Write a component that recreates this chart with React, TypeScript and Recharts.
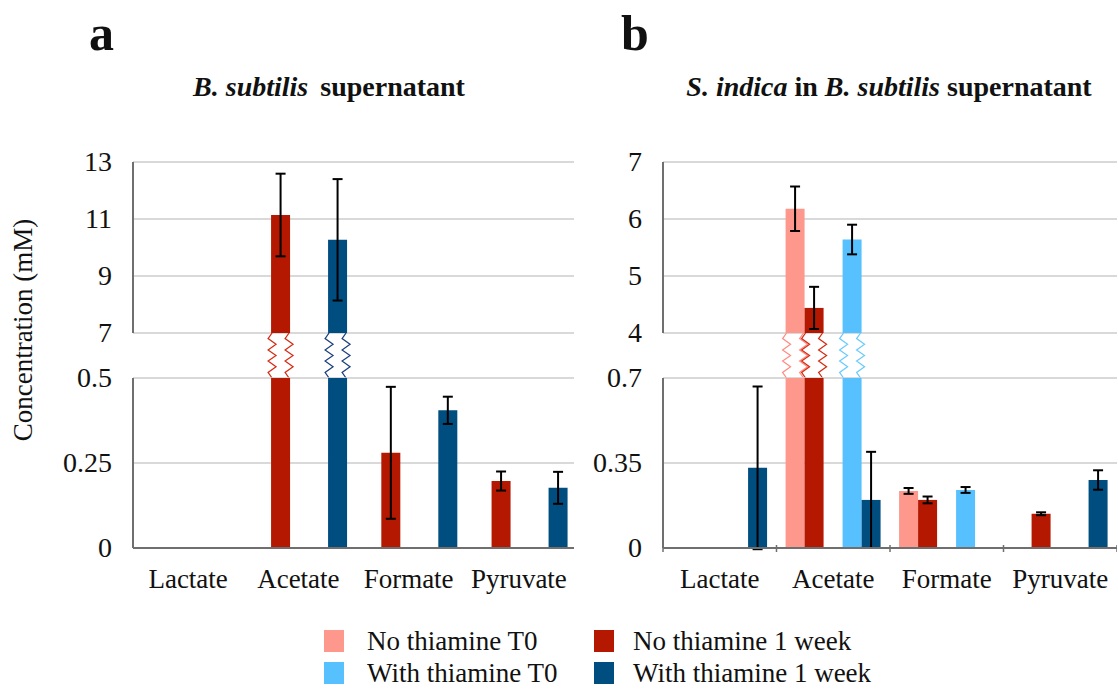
import React from 'react';
import { ComposedChart, Bar, XAxis, YAxis, CartesianGrid, ErrorBar } from 'recharts';

const categories = ['Lactate', 'Acetate', 'Formate', 'Pyruvate'];

// panel a: B. subtilis supernatant
const aNoT0 = [null, null, null, null];
const aNoT0Err = [null, null, null, null];
const aNo1w = [null, 11.14, 0.28, 0.197];
const aNo1wErr = [null, 1.45, 0.194, 0.028];
const aWithT0 = [null, null, null, null];
const aWithT0Err = [null, null, null, null];
const aWith1w = [null, 10.27, 0.405, 0.177];
const aWith1wErr = [null, 2.13, 0.04, 0.047];

// panel b: S. indica in B. subtilis supernatant
const bNoT0 = [null, 6.18, 0.235, null];
const bNoT0Err = [null, 0.39, 0.012, null];
const bNo1w = [null, 4.44, 0.198, 0.141];
const bNo1wErr = [null, 0.37, 0.014, 0.006];
const bWithT0 = [null, 5.64, 0.239, null];
const bWithT0Err = [null, 0.26, 0.012, null];
const bWith1w = [0.33, 0.198, null, 0.28];
const bWith1wErr = [0.335, 0.198, null, 0.04];

const aUpperTicks = [7, 9, 11, 13];
const aLowerTicks = [0, 0.25, 0.5];
const bUpperTicks = [4, 5, 6, 7];
const bLowerTicks = [0, 0.35, 0.7];

const SERIES = [
  { key: 'nt0', name: 'No thiamine T0', color: '#FE978C', zig: '#FF8C82' },
  { key: 'nt1', name: 'No thiamine 1 week', color: '#B41800', zig: '#D52A12' },
  { key: 'wt0', name: 'With thiamine T0', color: '#57C1FF', zig: '#6ACAFF' },
  { key: 'wt1', name: 'With thiamine 1 week', color: '#004D80', zig: '#1B3E7C' },
];

const FONT = 'Liberation Serif, DejaVu Serif';
const GRID = '#cccccc';
const AXIS = '#6f6f6f';

const UP_TOP = 162;
const UP_BOT = 333;
const LO_TOP = 378;
const LO_BOT = 548;
const PAD = 20;
const YW = 90;
const XH = 60;
const MID_H = LO_TOP - UP_BOT;

const panels = [
  {
    id: 'a',
    left: 133,
    right: 574,
    vals: { nt0: aNoT0, nt1: aNo1w, wt0: aWithT0, wt1: aWith1w },
    errs: { nt0: aNoT0Err, nt1: aNo1wErr, wt0: aWithT0Err, wt1: aWith1wErr },
    upperTicks: aUpperTicks,
    lowerTicks: aLowerTicks,
    boundaryTicks: false,
    tickMargin: 21,
  },
  {
    id: 'b',
    left: 663,
    right: 1117,
    vals: { nt0: bNoT0, nt1: bNo1w, wt0: bWithT0, wt1: bWith1w },
    errs: { nt0: bNoT0Err, nt1: bNo1wErr, wt0: bWithT0Err, wt1: bWith1wErr },
    upperTicks: bUpperTicks,
    lowerTicks: bLowerTicks,
    boundaryTicks: true,
    tickMargin: 21,
  },
];

const zigShape = (color: string, key: string, thr: number) => (p: any) => {
  const v = p.payload ? p.payload[key] : null;
  if (v == null || v <= thr) return <g />;
  const edge = (x0: number) => {
    const pts: string[] = [];
    for (let i = 0; i <= 8; i++) {
      const dx = i === 0 || i === 8 ? 0 : i % 2 ? -4 : 4;
      pts.push(`${x0 + dx},${((i * MID_H) / 8).toFixed(1)}`);
    }
    return pts.join(' ');
  };
  return (
    <g>
      <polyline points={edge(p.x + 1)} fill="none" stroke={color} strokeWidth={1.2} />
      <polyline points={edge(p.x + p.width - 1)} fill="none" stroke={color} strokeWidth={1.2} />
    </g>
  );
};

function Panel({ cfg }: { cfg: any }) {
  const plotW = cfg.right - cfg.left;
  const band = plotW / categories.length;
  const brkHi = cfg.upperTicks[0];
  const loMax = cfg.lowerTicks[cfg.lowerTicks.length - 1];

  const rows = categories.map((name, i) => {
    const r: any = { name };
    for (const s of SERIES) {
      const v = cfg.vals[s.key][i];
      const e = cfg.errs[s.key][i];
      const above = v != null && v > brkHi;
      r[s.key] = v;
      r[s.key + 'Up'] = above ? v : null;
      r[s.key + 'UpErr'] = above ? e : null;
      r[s.key + 'LoErr'] = v != null && v <= loMax ? e : null;
    }
    return r;
  });

  const YTick = (props: any) => {
    const { x, y, payload } = props;
    return (
      <text x={x} y={y} dy={9} textAnchor="end" fontSize={28} style={{ fontFamily: FONT }} fill="#111">
        {payload.value}
      </text>
    );
  };

  const XTick = (props: any) => {
    const { x, y, payload, index } = props;
    return (
      <g>
        <text x={x} y={y + 40} textAnchor="middle" fontSize={27} style={{ fontFamily: FONT }} fill="#111">
          {payload.value}
        </text>
        {cfg.boundaryTicks && (
          <line x1={x - band / 2} x2={x - band / 2} y1={y - 3} y2={y + 4} stroke={AXIS} strokeWidth={1.5} />
        )}
        {cfg.boundaryTicks && index === categories.length - 1 && (
          <line x1={x + band / 2} x2={x + band / 2} y1={y - 3} y2={y + 4} stroke={AXIS} strokeWidth={1.5} />
        )}
      </g>
    );
  };

  const bars = (suffix: string, errSuffix: string | null) => [
    ...SERIES.slice(0, 2).map((s) => (
      <Bar key={s.key} dataKey={s.key + suffix} fill={s.color} isAnimationActive={false}>
        {errSuffix && (
          <ErrorBar dataKey={s.key + errSuffix} width={5} strokeWidth={2} stroke="#000" direction="y" />
        )}
      </Bar>
    )),
    <Bar key="gap" dataKey="gap" fill="none" isAnimationActive={false} />,
    ...SERIES.slice(2).map((s) => (
      <Bar key={s.key} dataKey={s.key + suffix} fill={s.color} isAnimationActive={false}>
        {errSuffix && (
          <ErrorBar dataKey={s.key + errSuffix} width={5} strokeWidth={2} stroke="#000" direction="y" />
        )}
      </Bar>
    )),
  ];

  return (
    <>
      {/* upper segment */}
      <div style={{ position: 'absolute', left: cfg.left - YW, top: UP_TOP - PAD }}>
        <ComposedChart
          width={YW + plotW}
          height={UP_BOT - UP_TOP + 2 * PAD}
          data={rows}
          margin={{ top: PAD, bottom: PAD, left: 0, right: 0 }}
          barCategoryGap="8%"
          barGap={0}
        >
          <CartesianGrid vertical={false} stroke={GRID} strokeWidth={1.5} />
          <XAxis dataKey="name" hide />
          <YAxis
            type="number"
            width={YW}
            domain={[cfg.upperTicks[0], cfg.upperTicks[cfg.upperTicks.length - 1]]}
            ticks={cfg.upperTicks}
            allowDataOverflow
            tickLine={false}
            tickSize={0}
            tickMargin={cfg.tickMargin}
            axisLine={{ stroke: AXIS, strokeWidth: 2 }}
            tick={<YTick />}
          />
          {bars('Up', 'UpErr')}
        </ComposedChart>
      </div>
      {/* break zone */}
      <div style={{ position: 'absolute', left: cfg.left, top: UP_BOT }}>
        <ComposedChart
          width={plotW}
          height={MID_H}
          data={rows}
          margin={{ top: 0, bottom: 0, left: 0, right: 0 }}
          barCategoryGap="8%"
          barGap={0}
        >
          <XAxis dataKey="name" hide />
          <YAxis type="number" hide domain={[0, 1]} allowDataOverflow />
          {SERIES.slice(0, 2).map((s) => (
            <Bar key={s.key} dataKey={s.key} isAnimationActive={false} shape={zigShape(s.zig, s.key, brkHi)} />
          ))}
          <Bar dataKey="gap" fill="none" isAnimationActive={false} />
          {SERIES.slice(2).map((s) => (
            <Bar key={s.key} dataKey={s.key} isAnimationActive={false} shape={zigShape(s.zig, s.key, brkHi)} />
          ))}
        </ComposedChart>
      </div>
      {/* lower segment */}
      <div style={{ position: 'absolute', left: cfg.left - YW, top: LO_TOP - PAD }}>
        <ComposedChart
          width={YW + plotW}
          height={PAD + (LO_BOT - LO_TOP) + XH}
          data={rows}
          margin={{ top: PAD, bottom: 0, left: 0, right: 0 }}
          barCategoryGap="8%"
          barGap={0}
        >
          <CartesianGrid vertical={false} stroke={GRID} strokeWidth={1.5} />
          <XAxis
            dataKey="name"
            height={XH}
            interval={0}
            tickLine={false}
            tickSize={0}
            tickMargin={0}
            axisLine={{ stroke: AXIS, strokeWidth: 2 }}
            tick={<XTick />}
          />
          <YAxis
            type="number"
            width={YW}
            domain={[0, loMax]}
            ticks={cfg.lowerTicks}
            allowDataOverflow
            tickLine={false}
            tickSize={0}
            tickMargin={cfg.tickMargin}
            axisLine={{ stroke: AXIS, strokeWidth: 2 }}
            tick={<YTick />}
          />
          {bars('', 'LoErr')}
        </ComposedChart>
      </div>
    </>
  );
}

function Texts() {
  const legendPos = [
    { x: 324, y: 630, tx: 367 },
    { x: 594, y: 630, tx: 633 },
    { x: 324, y: 662, tx: 367 },
    { x: 594, y: 662, tx: 633 },
  ];
  return (
    <svg
      width={1118}
      height={689}
      style={{ position: 'absolute', left: 0, top: 0, pointerEvents: 'none', fontFamily: FONT }}
      fill="#111"
    >
      <text x={89} y={50} fontSize={50} fontWeight="bold">a</text>
      <text x={621} y={50} fontSize={50} fontWeight="bold">b</text>
      <text x={329} y={96} fontSize={28} fontWeight="bold" textAnchor="middle">
        <tspan fontStyle="italic">B. subtilis</tspan>
        <tspan dx={12}>supernatant</tspan>
      </text>
      <text x={889} y={96} fontSize={28} fontWeight="bold" textAnchor="middle">
        <tspan fontStyle="italic">S. indica</tspan>
        <tspan> in </tspan>
        <tspan fontStyle="italic">B. subtilis</tspan>
        <tspan> supernatant</tspan>
      </text>
      <text transform="translate(32,330) rotate(-90)" fontSize={27} textAnchor="middle">
        Concentration (mM)
      </text>
      {SERIES.map((s, i) => (
        <g key={s.key}>
          <rect x={legendPos[i].x} y={legendPos[i].y} width={20} height={22} fill={s.color} />
          <text x={legendPos[i].tx} y={legendPos[i].y + 20} fontSize={27}>
            {s.name}
          </text>
        </g>
      ))}
    </svg>
  );
}

export default function App() {
  return (
    <div style={{ position: 'absolute', left: 0, top: 0, width: 1118, height: 689, background: '#fff' }}>
      {panels.map((p) => (
        <Panel key={p.id} cfg={p} />
      ))}
      <Texts />
    </div>
  );
}
